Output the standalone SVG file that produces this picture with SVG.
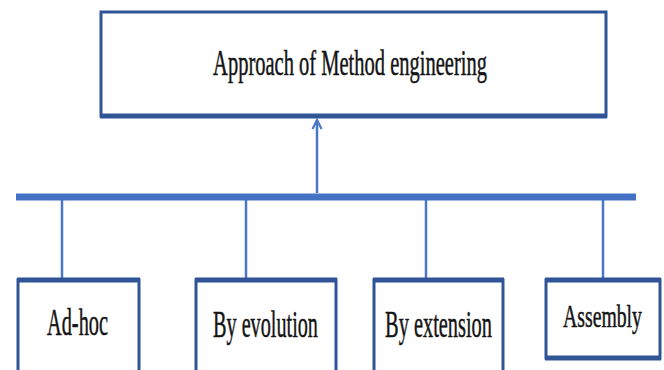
<svg xmlns="http://www.w3.org/2000/svg" width="664" height="370" viewBox="0 0 664 370">
<style>
.box{fill:#ffffff;stroke:#2f5597;stroke-width:3}
.edge{stroke:#2f5597;stroke-width:5;fill:none}
.lbl{font-family:"Liberation Serif","Times New Roman",serif;fill:#141414;stroke:#141414;stroke-width:0.5;text-anchor:middle}
.bus{stroke:#4472c4;stroke-width:7;fill:none}
.drop{stroke:#4a76c6;stroke-width:2.5;fill:none}
</style>
<defs>
<marker id="ah" markerWidth="12" markerHeight="12" refX="10" refY="6" orient="auto" markerUnits="userSpaceOnUse" viewBox="0 0 12 12">
<path d="M1,1.5 L10,6 L1,10.5" fill="none" stroke="#4a76c6" stroke-width="2.2"/>
</marker>
</defs>
<rect width="664" height="370" fill="#ffffff"/>
<g id="connectors">
<line class="bus" x1="16" y1="197" x2="636" y2="197"/>
<line class="drop" x1="62" y1="200" x2="62" y2="279"/>
<line class="drop" x1="246" y1="200" x2="246" y2="279"/>
<line class="drop" x1="426" y1="200" x2="426" y2="279"/>
<line class="drop" x1="603" y1="200" x2="603" y2="279"/>
<line class="drop" x1="317" y1="193" x2="317" y2="120" marker-end="url(#ah)"/>
</g>
<g id="root">
<rect class="box" x="101" y="12" width="505" height="104"/>
<line class="edge" x1="100" y1="116" x2="607" y2="116"/>
<text class="lbl" transform="translate(350 75) scale(0.586 1)" font-size="35">Approach of Method engineering</text>
</g>
<g id="adhoc">
<rect class="box" x="18" y="280" width="121" height="100"/>
<line class="edge" x1="17" y1="280" x2="140" y2="280"/>
<text class="lbl" transform="translate(77.5 335) scale(0.535 1)" font-size="38">Ad-hoc</text>
</g>
<g id="evolution">
<rect class="box" x="196" y="280" width="140" height="100"/>
<line class="edge" x1="195" y1="280" x2="337" y2="280"/>
<text class="lbl" transform="translate(265.5 337) scale(0.532 1)" font-size="38">By evolution</text>
</g>
<g id="extension">
<rect class="box" x="374" y="280" width="129" height="100"/>
<line class="edge" x1="373" y1="280" x2="504" y2="280"/>
<text class="lbl" transform="translate(438.5 337) scale(0.536 1)" font-size="38">By extension</text>
</g>
<g id="assembly">
<rect class="box" x="546" y="280" width="114" height="78"/>
<line class="edge" x1="545" y1="280" x2="661" y2="280"/>
<line class="edge" x1="545" y1="358" x2="661" y2="358"/>
<text class="lbl" transform="translate(602.5 327) scale(0.637 1)" font-size="31">Assembly</text>
</g>
</svg>
